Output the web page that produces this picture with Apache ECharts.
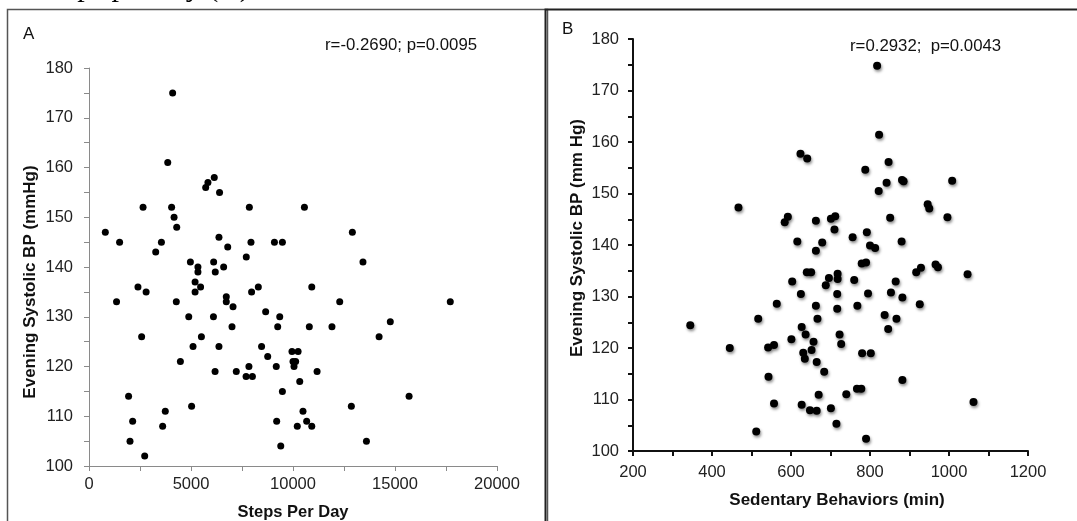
<!DOCTYPE html>
<html>
<head>
<meta charset="utf-8">
<script src="https://cdn.jsdelivr.net/npm/echarts@6/dist/echarts.min.js"></script>
<style>
html,body{margin:0;padding:0;background:#fff;}
#chart{width:1077px;height:521px;}
</style>
</head>
<body>
<div id="chart"></div>
<script>
// Panel A: Steps per day vs evening systolic BP
const stepsA = [800,1500,1350,2650,2400,2800,3270,3550,3860,4050,4170,4300,4280,4970,5200,5200,5340,5340,5470,4890,5720,5830,6140,6400,6110,6190,6370,6600,6800,6730,6730,7060,6100,7710,7860,7940,7970,8300,8660,9090,9480,9350,10560,10920,12290,12910,13430,14770,17710,4100,
  2580,5100,5510,6370,7010,4480,6180,7220,7840,7700,8010,8460,8760,9250,9180,9480,9950,10250,10000,10130,10050,10330,10800,11180,11910,14220,1940,2140,2010,2730,3740,3610,5030,9200,9400,10210,10490,10670,10920,12860,13600,15690];
const bpA = [147,145,133,152,136,135,143,145,161,152,150,148,133,141,137,135,140,139,136,130,156,157,158,155,141,139,146,140,144,134,133,132,130,142,152,145,135,136,131,145,145,130,152,136,133,147,141,129,133,175,
  126,124,126,124,128,121,119,119,120,118,118,124,122,128,120,115,123,123,121,121,120,117,128,119,128,126,114,109,105,102,111,108,112,109,104,108,111,109,108,112,105,114];

// Panel B: Sedentary behaviors vs evening systolic BP
const sedB = [823,624,641,788,847,842,822,881,885,1008,467,946,950,996,851,592,584,663,701,712,710,756,792,800,813,880,616,679,663,779,790,966,972,929,917,1047,640,651,718,718,696,603,760,865,688,625,717,795,853,882,564,663,768,926,717,837,517,667,867,
  345,627,637,723,601,657,727,846,445,542,557,631,652,635,665,684,780,802,543,882,767,778,670,740,557,627,648,665,701,1062,715,512,790,818];
const bpB = [161.4,157.7,156.8,154.6,156.1,152.1,150.5,152.6,152.4,152.5,147.3,147.9,147.1,145.4,145.3,145.5,144.4,144.7,145.1,145.6,143.0,141.5,142.5,139.9,139.4,140.7,140.7,140.5,138.9,136.4,136.6,136.2,135.7,135.6,134.7,134.3,134.7,134.7,134.4,133.4,133.6,132.9,133.2,132.9,132.2,130.5,130.5,130.6,130.8,129.8,128.6,128.2,128.2,128.5,127.6,126.4,125.7,125.7,125.7,
  124.4,124.1,122.6,122.6,121.7,121.2,120.8,123.7,120.0,120.1,120.6,119.1,119.6,117.9,117.3,115.4,119.0,119.0,114.4,113.8,112.1,112.1,110.9,111.0,109.2,109.0,107.9,107.8,108.3,109.5,105.3,103.8,102.4,174.8];

const textA = {panel:'A', stat:'r=-0.2690; p=0.0095', xName:'Steps Per Day', yName:'Evening Systolic BP (mmHg)'};
const textB = {panel:'B', stat:'r=0.2932;  p=0.0043', xName:'Sedentary Behaviors (min)', yName:'Evening Systolic BP (mm Hg)'};
const captionFragment = 'Steps per day (A)';

const ptsA = stepsA.map((x,i)=>[x,bpA[i]]);
const ptsB = sedB.map((x,i)=>[x,bpB[i]]);

const FONT = '"Liberation Sans", Arial, sans-serif';
const chart = echarts.init(document.getElementById('chart'), null, {renderer:'canvas'});

const yFmt = v => (v % 10 === 0 ? String(v) : '');

chart.setOption({
  animation:false,
  backgroundColor:'#ffffff',
  grid:[
    {left:89, top:68, width:408, height:398},
    {left:633, top:39, width:395, height:412}
  ],
  xAxis:[
    {gridIndex:0, type:'value', min:0, max:20000, interval:2500,
      splitLine:{show:false},
      axisLine:{onZero:false, lineStyle:{color:'#8a8a8a', width:1}},
      axisTick:{show:true, length:5, lineStyle:{color:'#8a8a8a'}},
      axisLabel:{margin:10, color:'#222', fontSize:16.5, fontFamily:FONT,
        formatter:v=> (v % 5000 === 0 ? String(v) : '')}},
    {gridIndex:1, type:'value', min:200, max:1200, interval:100,
      splitLine:{show:false},
      axisLine:{onZero:false, lineStyle:{color:'#111', width:2}},
      axisTick:{show:true, length:5, lineStyle:{color:'#111', width:2}},
      axisLabel:{margin:13, color:'#222', fontSize:16.5, fontFamily:FONT,
        formatter:v=> (v % 200 === 0 ? String(v) : '')}}
  ],
  yAxis:[
    {gridIndex:0, type:'value', min:100, max:180, interval:5,
      splitLine:{show:false},
      axisLine:{show:true, onZero:false, lineStyle:{color:'#8a8a8a', width:1}},
      axisTick:{show:true, length:5, lineStyle:{color:'#8a8a8a'}},
      axisLabel:{margin:16, color:'#222', fontSize:16.5, fontFamily:FONT, formatter:yFmt}},
    {gridIndex:1, type:'value', min:100, max:180, interval:5,
      splitLine:{show:false},
      axisLine:{show:true, onZero:false, lineStyle:{color:'#111', width:2}},
      axisTick:{show:true, length:5, lineStyle:{color:'#111', width:2}},
      axisLabel:{margin:14, color:'#222', fontSize:16.5, fontFamily:FONT, formatter:yFmt}}
  ],
  series:[
    {type:'scatter', xAxisIndex:0, yAxisIndex:0, data:ptsA, symbolSize:7,
      itemStyle:{color:'#000', opacity:1}},
    {type:'scatter', xAxisIndex:1, yAxisIndex:1, data:ptsB, symbolSize:8,
      itemStyle:{color:'#000', opacity:1, shadowBlur:3, shadowColor:'rgba(0,0,0,0.45)', shadowOffsetX:1, shadowOffsetY:2}}
  ],
  graphic:[
    {type:'text', left:39, top:-27, style:{text:captionFragment, font:'30px "Liberation Serif", "Times New Roman", serif', fill:'#000'}},
    {type:'rect', shape:{x:7.5, y:9.5, width:540, height:600}, style:{fill:'none', stroke:'#555', lineWidth:1.5}},
    {type:'rect', shape:{x:545.5, y:9.5, width:600, height:600}, style:{fill:'none', stroke:'#222', lineWidth:2}},
    {type:'text', x:23, y:34, style:{text:textA.panel, font:'17px '+FONT, fill:'#111', verticalAlign:'middle'}},
    {type:'text', x:562, y:29, style:{text:textB.panel, font:'17px '+FONT, fill:'#111', verticalAlign:'middle'}},
    {type:'text', x:325, y:45, style:{text:textA.stat, font:'16.8px '+FONT, fill:'#111', verticalAlign:'middle'}},
    {type:'text', x:850, y:46, style:{text:textB.stat, font:'16.8px '+FONT, fill:'#111', verticalAlign:'middle'}},
    {type:'text', x:293, y:512, style:{text:textA.xName, font:'bold 16.5px '+FONT, fill:'#111', align:'center', verticalAlign:'middle'}},
    {type:'text', x:837, y:500, style:{text:textB.xName, font:'bold 17px '+FONT, fill:'#111', align:'center', verticalAlign:'middle'}},
    {type:'text', x:30, y:282, rotation:Math.PI/2, style:{text:textA.yName, font:'bold 17px '+FONT, fill:'#111', align:'center', verticalAlign:'middle'}},
    {type:'text', x:577, y:238, rotation:Math.PI/2, style:{text:textB.yName, font:'bold 17px '+FONT, fill:'#111', align:'center', verticalAlign:'middle'}}
  ]
});
</script>
</body>
</html>
